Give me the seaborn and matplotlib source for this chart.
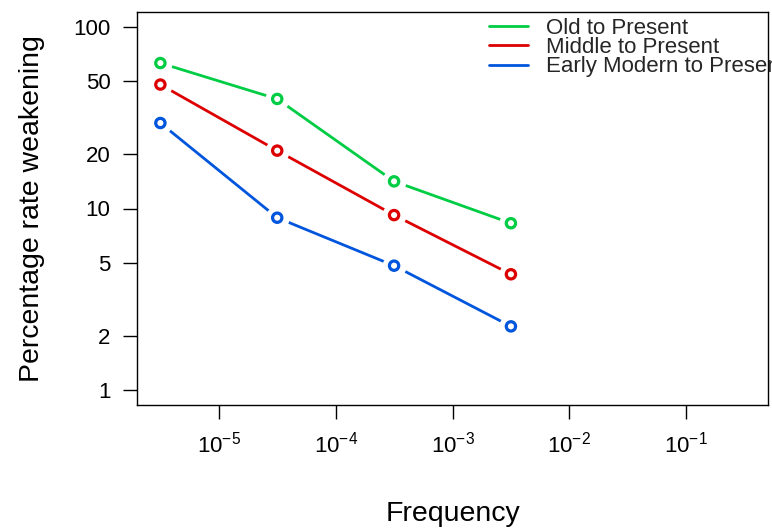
import numpy as np
import pandas as pd
import matplotlib
matplotlib.use("Agg")
import matplotlib.pyplot as plt
from matplotlib.lines import Line2D
import seaborn as sns

# ---- data ----
frequency = [10**-5.5, 10**-4.5, 10**-3.5, 10**-2.5]
old_to_present = [63, 40, 14.1, 8.3]
middle_to_present = [48, 20.8, 9.2, 4.35]
early_modern_to_present = [29.5, 8.9, 4.85, 2.25]
series_names = ["Old to Present", "Middle to Present", "Early Modern to Present"]
series_colors = ["#00CC44", "#DD0000", "#0055DD"]
x_ticks = [1e-5, 1e-4, 1e-3, 1e-2, 1e-1]
x_tick_labels = [r"$\mathregular{10^{-5}}$", r"$\mathregular{10^{-4}}$", r"$\mathregular{10^{-3}}$",
                 r"$\mathregular{10^{-2}}$", r"$\mathregular{10^{-1}}$"]
y_ticks = [1, 2, 5, 10, 20, 50, 100]
y_tick_labels = ["1", "2", "5", "10", "20", "50", "100"]

df = pd.DataFrame({
    "Frequency": frequency * 3,
    "Rate": old_to_present + middle_to_present + early_modern_to_present,
    "Series": sum([[n] * len(frequency) for n in series_names], []),
})

sns.set_theme(style="white")
plt.rcParams["font.family"] = ["Liberation Sans", "DejaVu Sans"]
plt.rcParams["mathtext.fontset"] = "custom"
plt.rcParams["mathtext.rm"] = "Liberation Sans"
plt.rcParams["mathtext.it"] = "Liberation Sans:italic"
plt.rcParams["mathtext.bf"] = "Liberation Sans:bold"

W, H = 772, 529
fig = plt.figure(figsize=(W / 100, H / 100), dpi=100)
ax = fig.add_axes([137 / W, 1 - 405 / H, (768 - 137) / W, (405 - 12) / H])

palette = dict(zip(series_names, series_colors))
sns.lineplot(data=df, x="Frequency", y="Rate", hue="Series", hue_order=series_names,
             palette=palette, linewidth=2, legend=False, ax=ax, zorder=2)
# white halo to break lines near points (R type="b")
sns.scatterplot(data=df, x="Frequency", y="Rate", color="white", s=300, linewidth=0,
                legend=False, ax=ax, zorder=3)
sns.scatterplot(data=df, x="Frequency", y="Rate", hue="Series", hue_order=series_names,
                palette=palette, s=45, facecolor="none", linewidth=2.3, marker="o",
                legend=False, ax=ax, zorder=4)
coll = ax.collections[-1]
cols = coll.get_facecolors()
coll.set_edgecolors(cols)
coll.set_facecolors("none")

ax.set_xscale("log")
ax.set_yscale("log")
ax.set_xlim(10**-5.7, 10**-0.3)
ax.set_ylim(10**-0.08, 10**2.08)

ax.set_xticks(x_ticks)
ax.set_xticklabels(x_tick_labels)
ax.set_yticks(y_ticks)
ax.set_yticklabels(y_tick_labels)
ax.minorticks_off()
ax.tick_params(axis="both", which="major", direction="out", length=10, width=1,
               color="black", labelsize=16, labelcolor="black", bottom=True, left=True)
ax.tick_params(axis="y", pad=9)
ax.tick_params(axis="x", pad=9)

for s in ax.spines.values():
    s.set_visible(True)
    s.set_color("black")
    s.set_linewidth(1)

ax.set_xlabel("Frequency", fontsize=20.5, color="black")
ax.set_ylabel("Percentage rate weakening", fontsize=20.5, color="black")
ax.xaxis.set_label_coords(0.5, (405 - 501) / 393)
ax.yaxis.set_label_coords((45 - 137) / 631, 0.5)

handles = [Line2D([0], [0], color=c, linewidth=2) for c in series_colors]
leg = fig.legend(handles, series_names, loc="upper left",
                 bbox_to_anchor=(489 / W, 1 - 18 / H), frameon=False, fontsize=16,
                 handlelength=1.75, handletextpad=0.8, labelspacing=-0.08, borderpad=0,
                 borderaxespad=0)

fig.savefig("out.png", dpi=100)
